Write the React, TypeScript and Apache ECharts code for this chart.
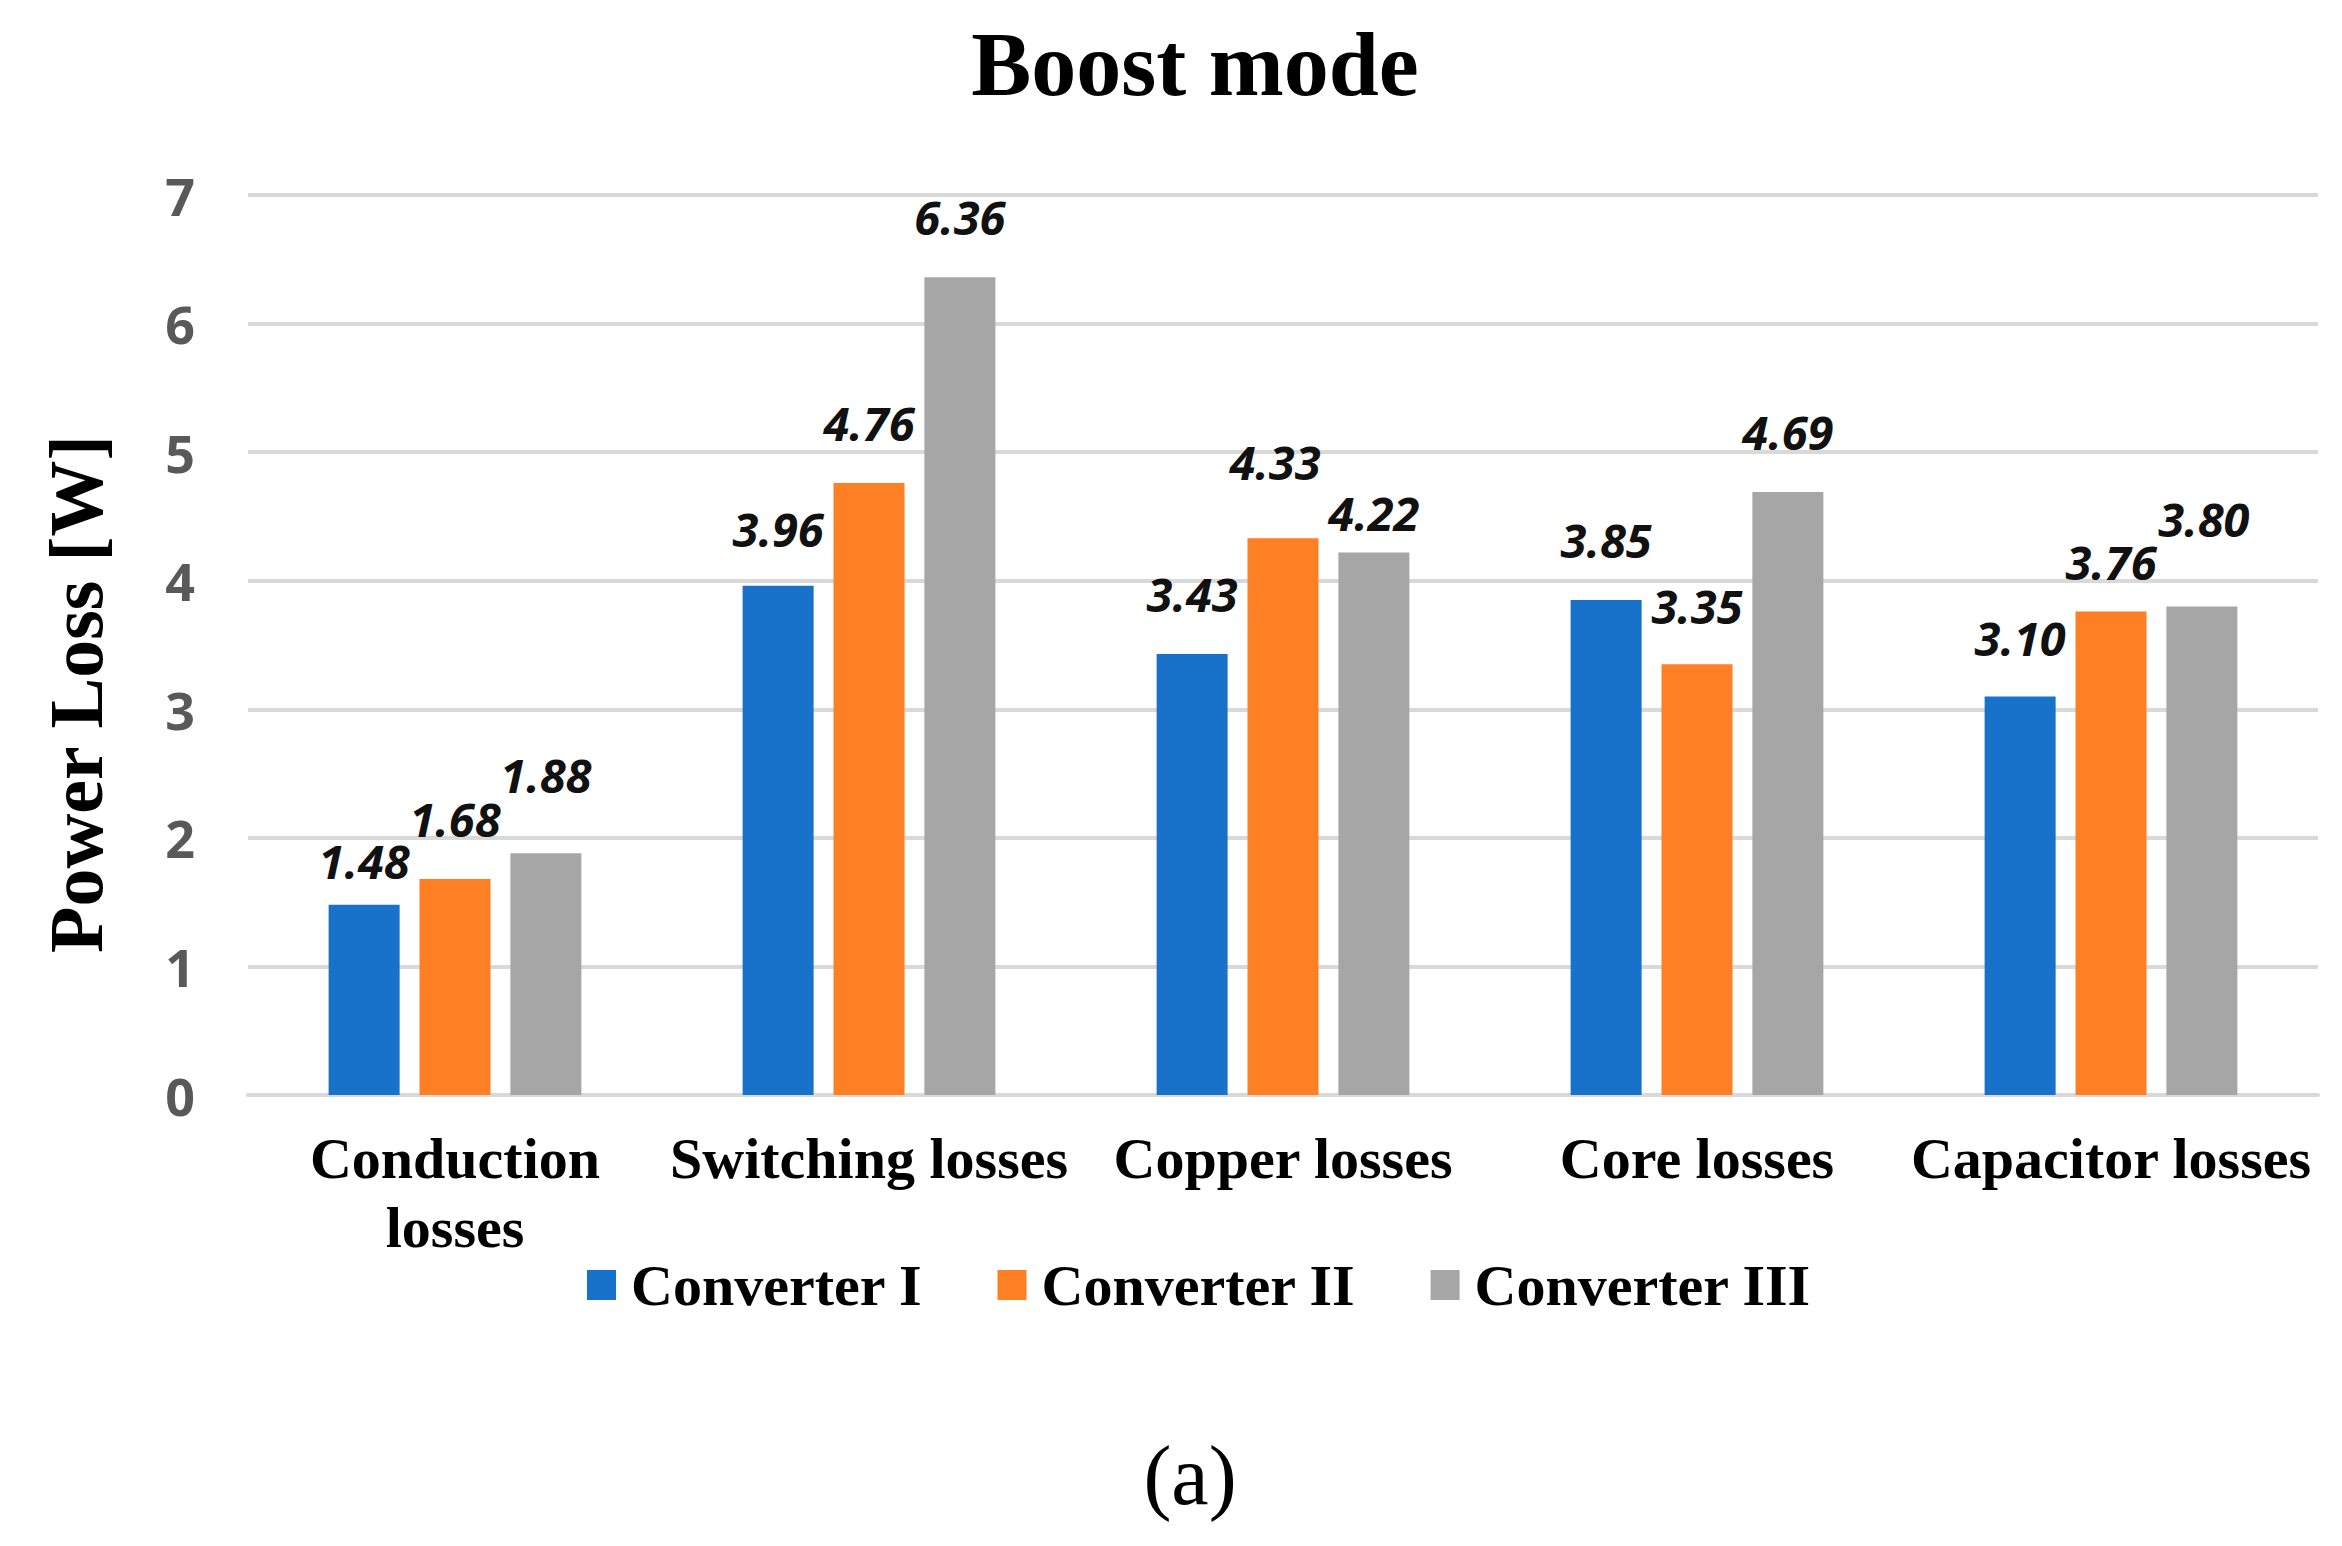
import React, { useEffect, useRef } from "react";
import * as echarts from "echarts";

const categories = [
  "Conduction losses",
  "Switching losses",
  "Copper losses",
  "Core losses",
  "Capacitor losses",
];
const seriesNames = ["Converter I", "Converter II", "Converter III"];
const converterI = [1.48, 3.96, 3.43, 3.85, 3.1];
const converterII = [1.68, 4.76, 4.33, 3.35, 3.76];
const converterIII = [1.88, 6.36, 4.22, 4.69, 3.8];
const yTicks = [0, 1, 2, 3, 4, 5, 6, 7];

const titleText = "Boost mode";
const yAxisTitle = "Power Loss [W]";
const panelTag = "(a)";

// styling
const colors = ["#1872c9", "#fe7f24", "#a6a6a6"];
const serif = "Liberation Serif";
const sans = "Open Sans";
// small per-label nudges [dx, dy] like the hand-placed labels of the original
const labelNudges = [
  [[0, 17], [0, 4], [0, 0], [0, 0], [0, 2]],
  [[0, 0], [0, 0], [-8, -16], [0, 2], [0, 11]],
  [[0, -18], [0, 0], [0, 21], [0, 0], [2, -27]],
];

export default function App() {
  const ref = useRef<HTMLDivElement>(null);
  useEffect(() => {
    document.body.style.margin = "0";
    if (!ref.current) return;
    const chart = echarts.init(ref.current, null, { renderer: "svg" });
    const allSeries = [converterI, converterII, converterIII];
    const option = {
      animation: false,
      backgroundColor: "#ffffff",
      title: [
        {
          text: titleText,
          left: 1195,
          top: 19,
          textAlign: "center",
          padding: 0,
          textStyle: {
            fontFamily: serif,
            fontWeight: "bold",
            fontSize: 90,
            lineHeight: 90,
            color: "#000000",
          },
        },
        {
          text: panelTag,
          left: 1190,
          top: 1433,
          textAlign: "center",
          padding: 0,
          textStyle: {
            fontFamily: serif,
            fontWeight: "normal",
            fontSize: 84,
            lineHeight: 84,
            color: "#000000",
          },
        },
      ],
      legend: {
        data: seriesNames,
        left: 587,
        top: 1256,
        padding: 0,
        itemWidth: 29,
        itemHeight: 30,
        itemGap: 75,
        icon: "rect",
        textStyle: {
          fontFamily: serif,
          fontWeight: "bold",
          fontSize: 58,
          lineHeight: 58,
          color: "#000000",
          padding: [0, 0, 0, 10],
        },
      },
      grid: { left: 248, right: 24, top: 195, bottom: 451 },
      xAxis: {
        type: "category",
        data: categories,
        axisTick: { show: false },
        axisLine: { show: true, lineStyle: { color: "#d9d9d9", width: 4 } },
        axisLabel: {
          interval: 0,
          margin: 29,
          fontFamily: serif,
          fontWeight: "bold",
          fontSize: 58,
          lineHeight: 69,
          color: "#000000",
          formatter: (v: string) => (v.length > 16 ? v.replace(" ", "\n") : v),
        },
      },
      yAxis: {
        type: "value",
        min: yTicks[0],
        max: yTicks[yTicks.length - 1],
        interval: yTicks[1] - yTicks[0],
        name: yAxisTitle,
        nameLocation: "middle",
        nameRotate: 90,
        nameGap: 134,
        nameTextStyle: {
          fontFamily: serif,
          fontWeight: "bold",
          fontSize: 76,
          lineHeight: 76,
          color: "#000000",
          padding: [0, 98, 0, 0],
        },
        axisLine: { show: false },
        axisTick: { show: false },
        splitLine: { show: true, lineStyle: { color: "#d9d9d9", width: 4 } },
        axisLabel: {
          margin: 53,
          fontFamily: sans,
          fontWeight: "bold",
          fontSize: 52,
          color: "#595959",
        },
      },
      series: allSeries.map((vals, i) => ({
        name: seriesNames[i],
        type: "bar",
        barWidth: 71,
        barGap: "28%",
        itemStyle: { color: colors[i] },
        label: {
          show: true,
          position: "top",
          distance: 37,
          fontFamily: sans,
          fontWeight: "bold",
          fontStyle: "italic",
          fontSize: 47,
          lineHeight: 47,
          color: "#111111",
          formatter: (p: any) => Number(p.value).toFixed(2),
        },
        data: vals.map((v, j) => ({
          value: v,
          label: { offset: labelNudges[i][j] },
        })),
      })),
    };
    chart.setOption(option as any);
    return () => chart.dispose();
  }, []);
  return <div ref={ref} style={{ width: 2342, height: 1546 }} />;
}
